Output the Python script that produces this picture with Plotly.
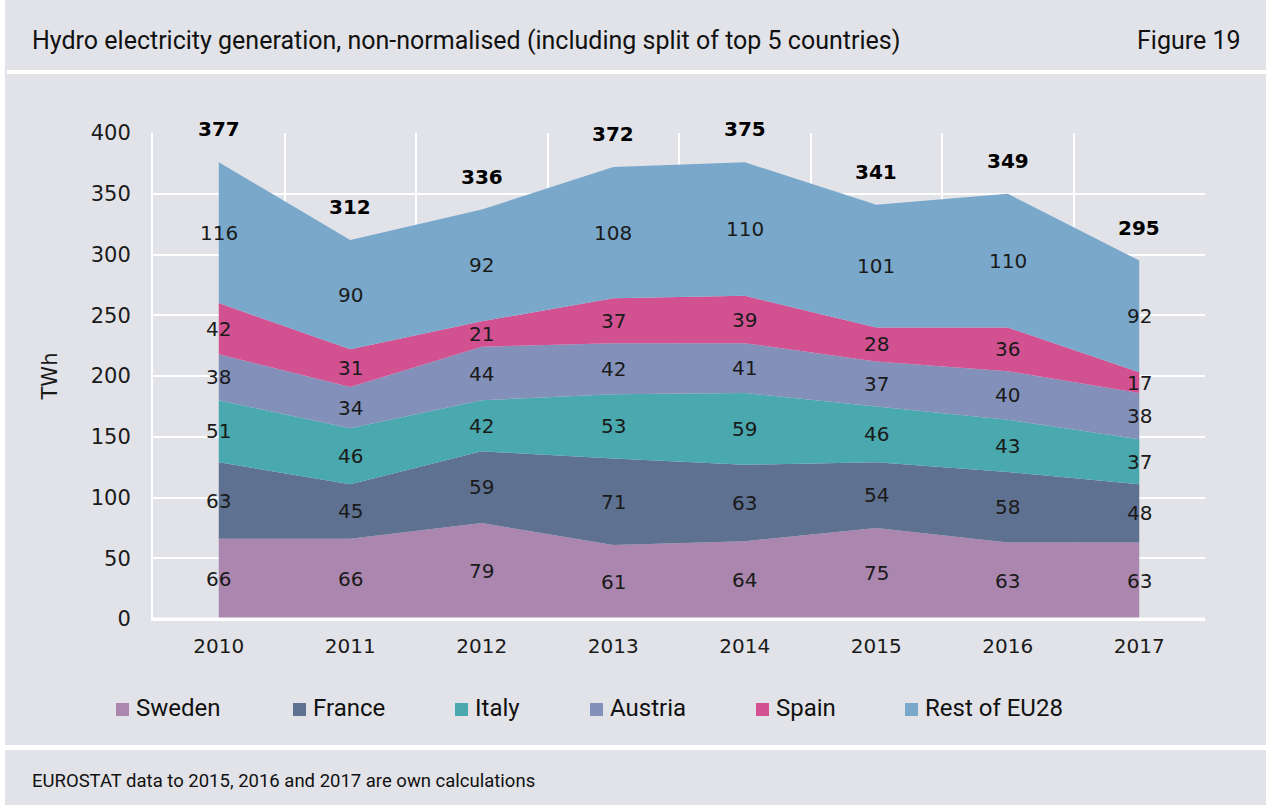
import plotly.graph_objects as go

years = ["2010", "2011", "2012", "2013", "2014", "2015", "2016", "2017"]
sweden = [66, 66, 79, 61, 64, 75, 63, 63]
france = [63, 45, 59, 71, 63, 54, 58, 48]
italy = [51, 46, 42, 53, 59, 46, 43, 37]
austria = [38, 34, 44, 42, 41, 37, 40, 38]
spain = [42, 31, 21, 37, 39, 28, 36, 17]
rest = [116, 90, 92, 108, 110, 101, 110, 92]
totals = [377, 312, 336, 372, 375, 341, 349, 295]

series = [
    ("Sweden", sweden, "#AB87AF"),
    ("France", france, "#5F7191"),
    ("Italy", italy, "#49A9AE"),
    ("Austria", austria, "#8391BA"),
    ("Spain", spain, "#D15191"),
    ("Rest of EU28", rest, "#79A8CB"),
]

BG = "#E2E3E8"
NUM = "DejaVu Sans, sans-serif"
TXT = "Roboto, sans-serif"

W, H = 1266, 805
L, R, T, B = 153, 61, 133, 805 - 619
PW, PH = W - L - R, H - T - B


def px(x):
    return (x - 153) / PW


def py(y):
    return (619 - y) / PH


fig = go.Figure()
for name, vals, col in series:
    fig.add_trace(go.Scatter(
        x=years, y=vals, name=name, stackgroup="one", mode="none",
        fillcolor=col, line=dict(width=0), hoverinfo="x+y+name", showlegend=False,
    ))

annotations = []
cum = [0] * len(years)
for name, vals, col in series:
    for i, v in enumerate(vals):
        annotations.append(dict(x=i, y=cum[i] + v / 2, text=str(v), showarrow=False,
                                font=dict(size=20, color="#1a1a1a", family=NUM)))
        cum[i] += v
for i, t in enumerate(totals):
    annotations.append(dict(x=i, y=cum[i], text="<b>" + str(t) + "</b>", showarrow=False,
                            yshift=33, font=dict(size=20, color="#000000", family=NUM)))

annotations += [
    dict(xref="paper", yref="paper", x=px(30), y=py(40), xanchor="left", yanchor="middle",
         text="Hydro electricity generation, non-normalised (including split of top 5 countries)",
         showarrow=False, font=dict(size=25, color="#111111", family=TXT)),
    dict(xref="paper", yref="paper", x=px(1243), y=py(40), xanchor="right",
         yanchor="middle", text="Figure 19", showarrow=False, font=dict(size=25, color="#111111", family=TXT)),
    dict(xref="paper", yref="paper", x=px(30), y=py(781), xanchor="left", yanchor="middle",
         text="EUROSTAT data to 2015, 2016 and 2017 are own calculations",
         showarrow=False, font=dict(size=18.5, color="#111111", family=TXT)),
]

shapes = [
    dict(type="rect", xref="paper", yref="paper", x0=px(0), x1=px(5),
         y0=py(805), y1=py(0), fillcolor="white", line=dict(width=0), layer="below"),
    dict(type="rect", xref="paper", yref="paper", x0=px(0), x1=px(1266),
         y0=py(750), y1=py(745), fillcolor="white", line=dict(width=0), layer="below"),
    dict(type="rect", xref="paper", yref="paper", x0=px(7), x1=px(1266),
         y0=py(74), y1=py(70), fillcolor="white", line=dict(width=0), layer="below"),
    dict(type="line", xref="paper", yref="paper", x0=0, x1=1, y0=0, y1=0,
         line=dict(color="white", width=3), layer="above"),
]

# manual legend (square markers + labels)
legend_marker_x = [116, 293, 455, 590, 756, 905]
for (name, vals, col), mx in zip(series, legend_marker_x):
    shapes.append(dict(type="rect", xref="paper", yref="paper", x0=px(mx), x1=px(mx + 13),
                       y0=py(716), y1=py(703), fillcolor=col, line=dict(width=0)))
    annotations.append(dict(xref="paper", yref="paper", x=px(mx + 18), y=py(708), xanchor="left",
                            yanchor="middle", text=name, showarrow=False,
                            font=dict(size=24, color="#111111", family=TXT)))

fig.update_layout(
    width=W, height=H,
    margin=dict(l=L, r=R, t=T, b=B, autoexpand=False),
    paper_bgcolor=BG, plot_bgcolor=BG,
    showlegend=False,
    annotations=annotations,
    shapes=shapes,
    xaxis=dict(type="category", range=[-0.5, 7.5], tickson="boundaries", showgrid=True,
               gridcolor="white", gridwidth=2, ticks="", zeroline=False, showline=True,
               linecolor="white", linewidth=2, mirror=False,
               tickfont=dict(size=20, color="#1a1a1a", family=NUM), ticklabelstandoff=8),
    yaxis=dict(range=[0, 400], dtick=50, showgrid=True, gridcolor="white", gridwidth=2,
               zeroline=False, showline=True, linecolor="white", linewidth=2, ticks="",
               tickfont=dict(size=21, color="#1a1a1a", family=NUM), ticklabelstandoff=16,
               title=dict(text="TWh", font=dict(size=21, color="#1a1a1a", family=NUM), standoff=27)),
)

fig.write_html("out.html", config={"displayModeBar": False},
               post_script="document.body.style.margin='0px';")
